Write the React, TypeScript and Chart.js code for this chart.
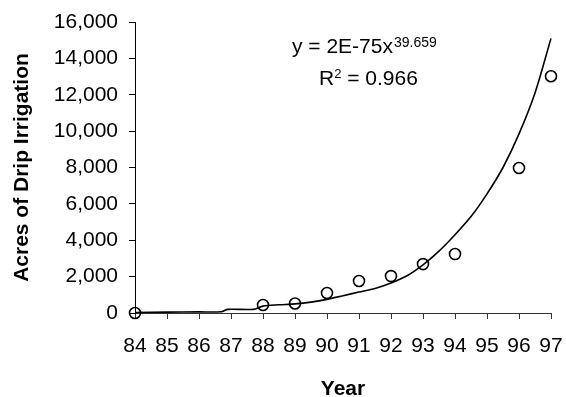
import React, { useEffect, useRef } from "react";
import { Chart, registerables } from "chart.js";

Chart.register(...registerables);

const FONT = "'Liberation Sans', Arial, sans-serif";

// Observed data (year, acres)
const years = [84, 88, 89, 90, 91, 92, 93, 94, 96, 97];
const acres = [0, 440, 520, 1100, 1760, 2030, 2690, 3240, 7970, 13020];

// Trend line
const trendYears = [84, 85, 86, 86.7, 86.9, 87.7, 88, 88.5, 89, 89.5, 90, 90.5, 91, 91.5, 92, 92.5, 93, 93.5, 94, 94.5, 95, 95.5, 96, 96.5, 97];
const trendAcres = [30, 50, 60, 70, 200, 200, 380, 450, 500, 600, 750, 950, 1150, 1350, 1650, 2050, 2650, 3400, 4300, 5300, 6550, 8000, 9850, 12100, 15100];

const xTicks = [84, 85, 86, 87, 88, 89, 90, 91, 92, 93, 94, 95, 96, 97];
const yMin = 0;
const yMax = 16000;
const yStep = 2000;

const eqMain = "y = 2E-75x";
const eqExp = "39.659";
const r2Main = "R";
const r2Sup = "2";
const r2Rest = " = 0.966";

const yTitle = "Acres of Drip Irrigation";
const xTitle = "Year";

const eqPlugin = {
  id: "eqPlugin",
  afterDraw(chart: any) {
    const ctx = chart.ctx;
    const area = chart.chartArea;
    ctx.save();
    ctx.fillStyle = "#000";
    ctx.textBaseline = "alphabetic";
    ctx.textAlign = "left";
    // line 1
    let x = area.left + 157;
    const y1 = area.top + 31;
    ctx.font = `21px ${FONT}`;
    ctx.fillText(eqMain, x, y1);
    x += ctx.measureText(eqMain).width;
    ctx.font = `14px ${FONT}`;
    ctx.fillText(eqExp, x + 1, y1 - 6);
    // line 2
    let x2 = area.left + 184;
    const y2 = area.top + 63;
    ctx.font = `21px ${FONT}`;
    ctx.fillText(r2Main, x2, y2);
    x2 += ctx.measureText(r2Main).width;
    ctx.font = `13px ${FONT}`;
    ctx.fillText(r2Sup, x2, y2 - 7);
    x2 += ctx.measureText(r2Sup).width;
    ctx.font = `21px ${FONT}`;
    ctx.fillText(r2Rest, x2, y2);
    ctx.restore();
  },
};

export default function App() {
  const ref = useRef<HTMLCanvasElement>(null);

  useEffect(() => {
    document.body.style.margin = "0";
    const canvas = ref.current!;
    Chart.defaults.color = "#000";
    Chart.defaults.font.family = FONT;

    const chart = new Chart(canvas, {
      type: "scatter",
      data: {
        datasets: [
          {
            type: "line",
            label: "Trend",
            data: trendYears.map((x, i) => ({ x, y: trendAcres[i] })),
            borderColor: "#000",
            borderWidth: 1.6,
            pointRadius: 0,
            tension: 0.3,
            fill: false,
            clip: false,
            order: 2,
          } as any,
          {
            type: "scatter",
            label: "Acres",
            data: years.map((x, i) => ({ x, y: acres[i] })),
            pointStyle: "circle",
            pointRadius: 5.5,
            pointBorderWidth: 1.6,
            borderColor: "#000",
            backgroundColor: "rgba(0,0,0,0)",
            clip: false,
            order: 1,
          } as any,
        ],
      },
      options: {
        responsive: false,
        animation: false,
        devicePixelRatio: 1,
        layout: { padding: { left: 0, right: 15, top: 22, bottom: 0 } },
        plugins: {
          legend: { display: false },
          tooltip: { enabled: false },
        },
        scales: {
          x: {
            type: "linear",
            min: 84,
            max: 97,
            afterBuildTicks: (scale: any) => {
              scale.ticks = xTicks.map((v) => ({ value: v }));
            },
            afterFit: (scale: any) => {
              scale.height = 84;
              scale.paddingRight = 0;
              scale.paddingLeft = 0;
            },
            ticks: {
              font: { size: 21, family: FONT },
              color: "#000",
              padding: 15,
              maxRotation: 0,
              autoSkip: false,
            },
            grid: {
              display: true,
              drawOnChartArea: false,
              drawTicks: true,
              tickLength: 6,
              color: "#333",
            },
            border: { display: true, color: "#333", width: 1 },
            title: {
              display: true,
              text: xTitle,
              font: { size: 21, weight: "bold", family: FONT, lineHeight: 0.7 },
              color: "#000",
              padding: { top: 0, bottom: 0 },
            },
          },
          y: {
            type: "linear",
            min: yMin,
            max: yMax,
            ticks: {
              stepSize: yStep,
              font: { size: 21, family: FONT },
              color: "#000",
              padding: 11,
              callback: (v: any) => Number(v).toLocaleString("en-US"),
            },
            afterFit: (scale: any) => {
              scale.width = 135;
              scale.paddingTop = 0;
              scale.paddingBottom = 0;
            },
            grid: {
              display: true,
              drawOnChartArea: false,
              drawTicks: true,
              tickLength: 6,
              color: "#000",
            },
            border: { display: true, color: "#000", width: 1 },
            title: {
              display: true,
              text: yTitle,
              font: { size: 21, weight: "bold", family: FONT },
              color: "#000",
              padding: { top: 10, bottom: 0 },
            },
          },
        },
      },
      plugins: [eqPlugin],
    });
    return () => chart.destroy();
  }, []);

  return (
    <div style={{ width: 566, height: 397, position: "relative", background: "#fff" }}>
      <canvas ref={ref} width={566} height={397} />
    </div>
  );
}
